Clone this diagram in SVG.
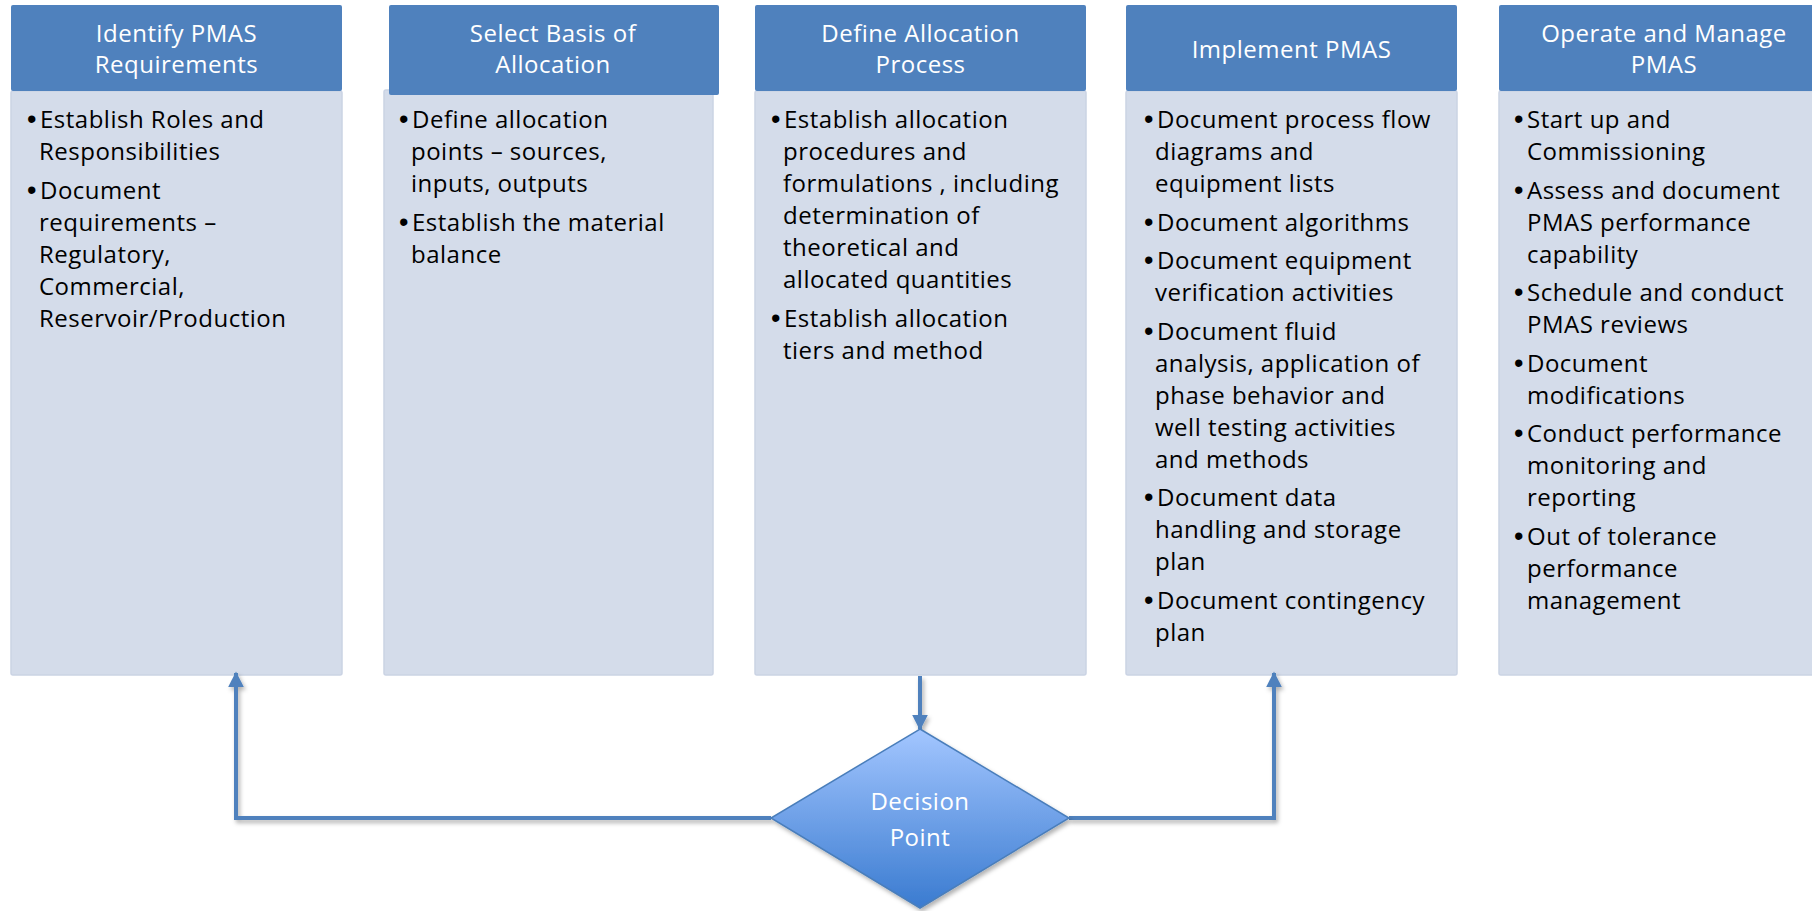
<svg xmlns="http://www.w3.org/2000/svg" width="1812" height="911" viewBox="0 0 1812 911">
<style>
.hdr{fill:#4F81BD}
.body{fill:#D4DCEA;stroke:#CAD3E4;stroke-width:1.5}
.ht{font-family:"Open Sans","Liberation Sans",sans-serif;font-size:24px;letter-spacing:0.5px;fill:#FFFFFF;text-anchor:middle}
.bt{font-family:"Open Sans","Liberation Sans",sans-serif;font-size:24px;letter-spacing:0.5px;fill:#000000}
.bu{font-family:"Liberation Sans",Arial,sans-serif;font-size:27px;fill:#000000}
.con{fill:none;stroke:#4F81BD;stroke-width:4}
</style>
<defs>
<linearGradient id="dg" x1="0" y1="0" x2="0" y2="1">
<stop offset="0" stop-color="#A3C6FF"/>
<stop offset="1" stop-color="#3A7BD0"/>
</linearGradient>
<filter id="sh" x="-10%" y="-10%" width="130%" height="130%">
<feDropShadow dx="2" dy="3" stdDeviation="2" flood-color="#000" flood-opacity="0.3"/>
</filter>
<marker id="ah" viewBox="0 0 10 10" refX="9" refY="5" markerWidth="4" markerHeight="4" orient="auto" markerUnits="strokeWidth">
<path d="M0,0 L10,5 L0,10 Z" fill="#4F81BD"/>
</marker>
</defs>

<g id="node-identify">
<rect class="body" x="11" y="91" width="331" height="584" rx="2"/>
<rect class="hdr" x="11" y="5" width="331" height="86" rx="2"/>
<text class="ht" x="176.5" y="42">Identify PMAS</text>
<text class="ht" x="176.5" y="73">Requirements</text>
<text class="bu" x="27" y="128">•</text>
<text class="bt" x="40" y="128">Establish Roles and</text>
<text class="bt" x="39" y="160">Responsibilities</text>
<text class="bu" x="27" y="198.5">•</text>
<text class="bt" x="40" y="198.5">Document</text>
<text class="bt" x="39" y="230.5">requirements –</text>
<text class="bt" x="39" y="262.5">Regulatory,</text>
<text class="bt" x="39" y="294.5">Commercial,</text>
<text class="bt" x="39" y="326.5">Reservoir/Production</text>
</g>

<g id="node-select">
<rect class="body" x="384" y="90" width="329" height="585" rx="2"/>
<rect class="hdr" x="389" y="5" width="330" height="90" rx="2"/>
<text class="ht" x="553" y="42">Select Basis of</text>
<text class="ht" x="553" y="73">Allocation</text>
<text class="bu" x="399" y="128">•</text>
<text class="bt" x="412" y="128">Define allocation</text>
<text class="bt" x="411" y="160">points – sources,</text>
<text class="bt" x="411" y="192">inputs, outputs</text>
<text class="bu" x="399" y="230.5">•</text>
<text class="bt" x="412" y="230.5">Establish the material</text>
<text class="bt" x="411" y="262.5">balance</text>
</g>

<g id="node-define">
<rect class="body" x="755" y="91" width="331" height="584" rx="2"/>
<rect class="hdr" x="755" y="5" width="331" height="86" rx="2"/>
<text class="ht" x="920.5" y="42">Define Allocation</text>
<text class="ht" x="920.5" y="73">Process</text>
<text class="bu" x="771" y="128">•</text>
<text class="bt" x="784" y="128">Establish allocation</text>
<text class="bt" x="783" y="160">procedures and</text>
<text class="bt" x="783" y="192">formulations , including</text>
<text class="bt" x="783" y="224">determination of</text>
<text class="bt" x="783" y="256">theoretical and</text>
<text class="bt" x="783" y="288">allocated quantities</text>
<text class="bu" x="771" y="326.5">•</text>
<text class="bt" x="784" y="326.5">Establish allocation</text>
<text class="bt" x="783" y="358.5">tiers and method</text>
</g>

<g id="node-implement">
<rect class="body" x="1126" y="91" width="331" height="584" rx="2"/>
<rect class="hdr" x="1126" y="5" width="331" height="86" rx="2"/>
<text class="ht" x="1291.5" y="58">Implement PMAS</text>
<text class="bu" x="1144" y="128">•</text>
<text class="bt" x="1157" y="128">Document process flow</text>
<text class="bt" x="1155" y="160">diagrams and</text>
<text class="bt" x="1155" y="192">equipment lists</text>
<text class="bu" x="1144" y="230.5">•</text>
<text class="bt" x="1157" y="230.5">Document algorithms</text>
<text class="bu" x="1144" y="269">•</text>
<text class="bt" x="1157" y="269">Document equipment</text>
<text class="bt" x="1155" y="301">verification activities</text>
<text class="bu" x="1144" y="339.5">•</text>
<text class="bt" x="1157" y="339.5">Document fluid</text>
<text class="bt" x="1155" y="371.5">analysis, application of</text>
<text class="bt" x="1155" y="403.5">phase behavior and</text>
<text class="bt" x="1155" y="435.5">well testing activities</text>
<text class="bt" x="1155" y="467.5">and methods</text>
<text class="bu" x="1144" y="506">•</text>
<text class="bt" x="1157" y="506">Document data</text>
<text class="bt" x="1155" y="538">handling and storage</text>
<text class="bt" x="1155" y="570">plan</text>
<text class="bu" x="1144" y="608.5">•</text>
<text class="bt" x="1157" y="608.5">Document contingency</text>
<text class="bt" x="1155" y="640.5">plan</text>
</g>

<g id="node-operate">
<rect class="body" x="1499" y="91" width="331" height="584" rx="2"/>
<rect class="hdr" x="1499" y="5" width="331" height="86" rx="2"/>
<text class="ht" x="1664" y="42">Operate and Manage</text>
<text class="ht" x="1664" y="73">PMAS</text>
<text class="bu" x="1514" y="128">•</text>
<text class="bt" x="1527" y="128">Start up and</text>
<text class="bt" x="1527" y="160">Commissioning</text>
<text class="bu" x="1514" y="198.5">•</text>
<text class="bt" x="1527" y="198.5">Assess and document</text>
<text class="bt" x="1527" y="230.5">PMAS performance</text>
<text class="bt" x="1527" y="262.5">capability</text>
<text class="bu" x="1514" y="301">•</text>
<text class="bt" x="1527" y="301">Schedule and conduct</text>
<text class="bt" x="1527" y="333">PMAS reviews</text>
<text class="bu" x="1514" y="371.5">•</text>
<text class="bt" x="1527" y="371.5">Document</text>
<text class="bt" x="1527" y="403.5">modifications</text>
<text class="bu" x="1514" y="442">•</text>
<text class="bt" x="1527" y="442">Conduct performance</text>
<text class="bt" x="1527" y="474">monitoring and</text>
<text class="bt" x="1527" y="506">reporting</text>
<text class="bu" x="1514" y="544.5">•</text>
<text class="bt" x="1527" y="544.5">Out of tolerance</text>
<text class="bt" x="1527" y="576.5">performance</text>
<text class="bt" x="1527" y="608.5">management</text>
</g>

<g id="connectors" filter="url(#sh)">
<path class="con" d="M771,818 H236 V673" marker-end="url(#ah)"/>
<path class="con" d="M920,676 V729" marker-end="url(#ah)"/>
<path class="con" d="M1069,818 H1274 V673" marker-end="url(#ah)"/>
</g>

<g id="node-decision">
<polygon points="920,729 1069,818 920,908 771,818" fill="url(#dg)" stroke="#4A7EBB" stroke-width="1.5" filter="url(#sh)"/>
<text class="ht" x="920" y="810">Decision</text>
<text class="ht" x="920" y="846">Point</text>
</g>
</svg>
